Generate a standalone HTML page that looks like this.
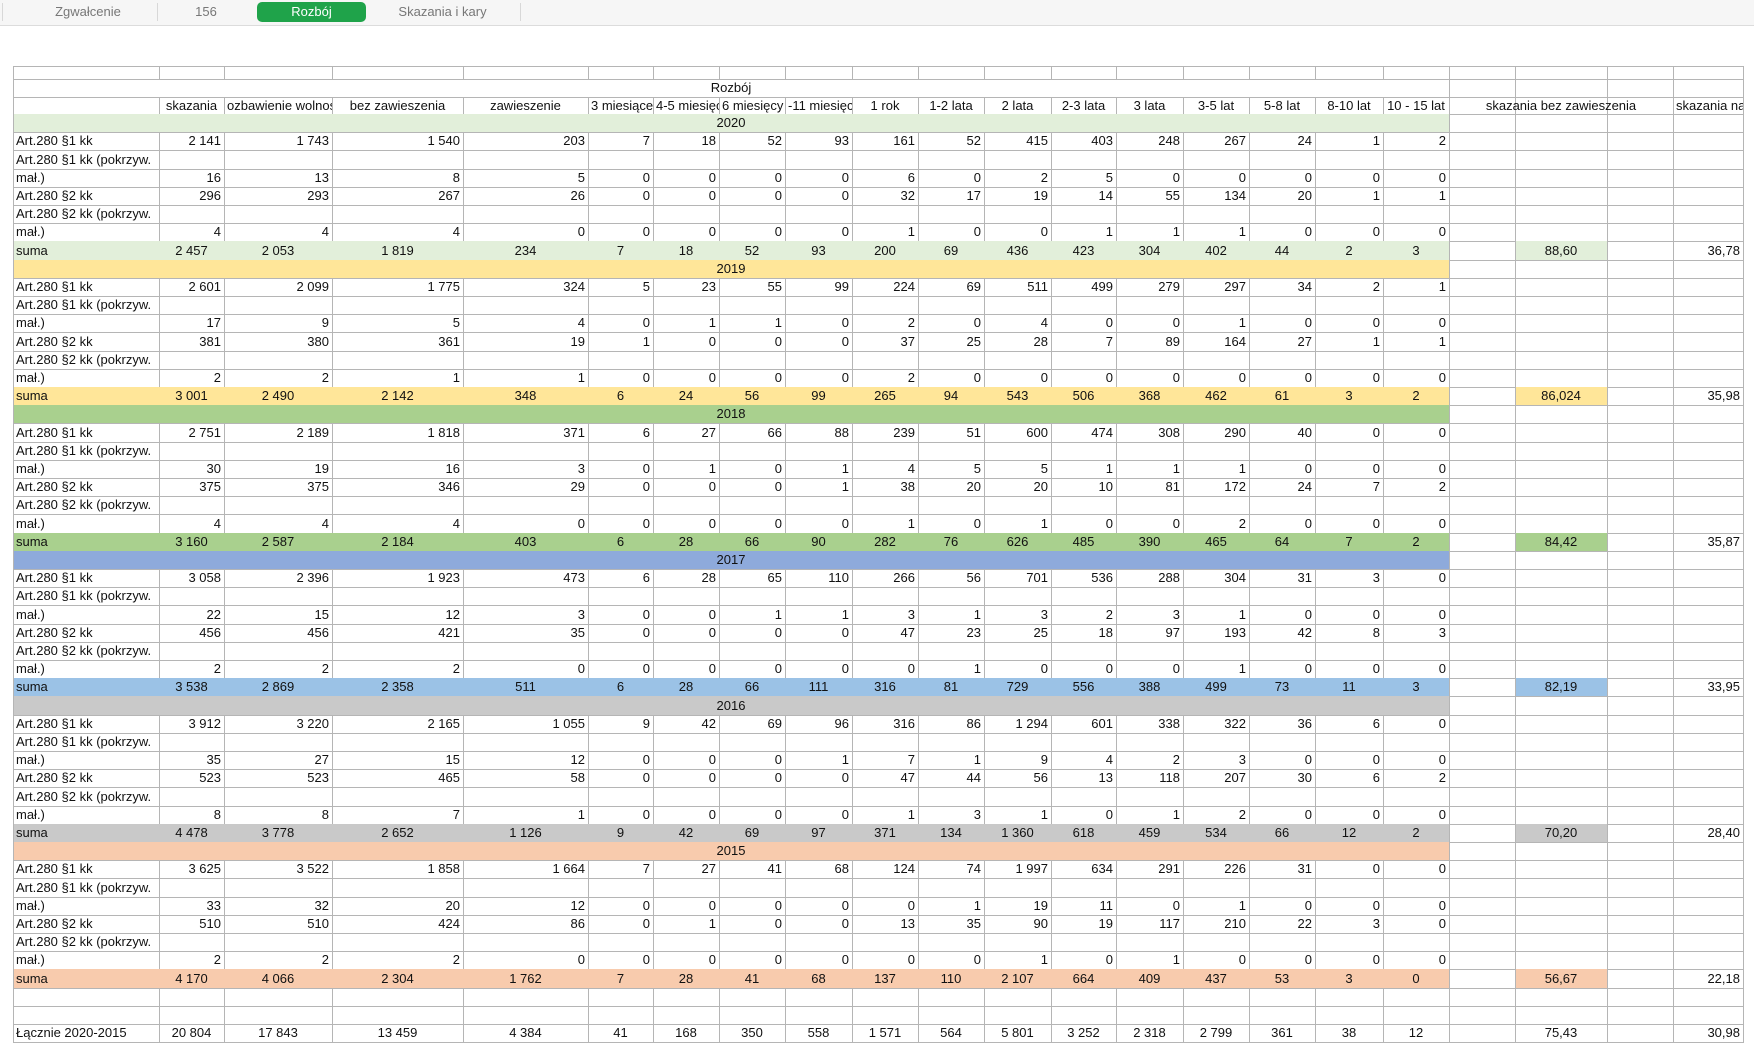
<!DOCTYPE html>
<html><head><meta charset="utf-8">
<style>
body{margin:0;width:1754px;height:1053px;background:#fff;position:relative;overflow:hidden;font-family:"Liberation Sans",Arial,sans-serif;}
#tabs{position:absolute;left:0;top:0;width:1754px;height:25px;background:#f6f6f6;border-bottom:1px solid #dcdcdc;}
.tab{position:absolute;top:4px;font-size:13px;color:#777;text-align:center;}
.sep{position:absolute;top:3px;width:1px;height:18px;background:#d8d8d8;}
#pill{position:absolute;left:257px;top:2px;width:109px;height:20px;background:#1fa34a;border-radius:5px;color:#fff;font-size:13px;text-align:center;line-height:20px;}
.c{position:absolute;box-sizing:border-box;font-size:13px;line-height:18px;white-space:nowrap;overflow:hidden;color:#111;}
.hl{position:absolute;height:1px;background:#b5b5b5;}
.vl{position:absolute;width:1px;background:#b5b5b5;}
.sm{font-family:"Liberation Sans Narrow","Liberation Sans",sans-serif;}
</style></head><body>
<div id="tabs">
<div class="sep" style="left:2px"></div>
<div class="tab" style="left:40px;width:96px">Zgwałcenie</div>
<div class="sep" style="left:157px"></div>
<div class="tab" style="left:180px;width:52px">156</div>
<div id="pill">Rozbój</div>
<div class="tab" style="left:380px;width:125px">Skazania i kary</div>
<div class="sep" style="left:520px"></div>
</div>
<div id="g"></div>
<script>
var X=[13,159,224,332,463,588,653,719,785,852,918,984,1051,1116,1183,1249,1315,1383,1449,1515,1607,1673,1743];
var g=document.getElementById('g');var h='';
var rowsY=[66,79,97,114];
for(var i=1;i<=51;i++)rowsY.push(Math.round(114+i*18.2));
function cell(x1,x2,y1,y2,txt,al,bg,cls){h+='<div class="c '+(cls||'')+'" style="left:'+x1+'px;width:'+(x2-x1)+'px;top:'+y1+'px;height:'+(y2-y1)+'px;line-height:'+(y2-y1)+'px;text-align:'+al+';padding:0 3px;'+(bg?'background:'+bg+';':'')+'">'+txt+'</div>';}
function hl(x1,x2,y){h+='<div class="hl" style="left:'+x1+'px;width:'+(x2-x1+1)+'px;top:'+y+'px"></div>';}
function vl(x,y1,y2){h+='<div class="vl" style="left:'+x+'px;top:'+y1+'px;height:'+(y2-y1)+'px"></div>';}
var years=[
['2020','#e2efda','#e2efda',[
['2 141','1 743','1 540','203',7,18,52,93,161,52,415,403,248,267,24,1,2],
['16',13,8,5,0,0,0,0,6,0,2,5,0,0,0,0,0],
['296',293,267,26,0,0,0,0,32,17,19,14,55,134,20,1,1],
['4',4,4,0,0,0,0,0,1,0,0,1,1,1,0,0,0],
['2 457','2 053','1 819',234,7,18,52,93,200,69,436,423,304,402,44,2,3],'88,60','36,78']],
['2019','#ffe699','#ffe699',[
['2 601','2 099','1 775',324,5,23,55,99,224,69,511,499,279,297,34,2,1],
[17,9,5,4,0,1,1,0,2,0,4,0,0,1,0,0,0],
[381,380,361,19,1,0,0,0,37,25,28,7,89,164,27,1,1],
[2,2,1,1,0,0,0,0,2,0,0,0,0,0,0,0,0],
['3 001','2 490','2 142',348,6,24,56,99,265,94,543,506,368,462,61,3,2],'86,024','35,98']],
['2018','#a9d08e','#a9d08e',[
['2 751','2 189','1 818',371,6,27,66,88,239,51,600,474,308,290,40,0,0],
[30,19,16,3,0,1,0,1,4,5,5,1,1,1,0,0,0],
[375,375,346,29,0,0,0,1,38,20,20,10,81,172,24,7,2],
[4,4,4,0,0,0,0,0,1,0,1,0,0,2,0,0,0],
['3 160','2 587','2 184',403,6,28,66,90,282,76,626,485,390,465,64,7,2],'84,42','35,87']],
['2017','#8eaadb','#9bc2e6',[
['3 058','2 396','1 923',473,6,28,65,110,266,56,701,536,288,304,31,3,0],
[22,15,12,3,0,0,1,1,3,1,3,2,3,1,0,0,0],
[456,456,421,35,0,0,0,0,47,23,25,18,97,193,42,8,3],
[2,2,2,0,0,0,0,0,0,1,0,0,0,1,0,0,0],
['3 538','2 869','2 358',511,6,28,66,111,316,81,729,556,388,499,73,11,3],'82,19','33,95']],
['2016','#c9c9c9','#c9c9c9',[
['3 912','3 220','2 165','1 055',9,42,69,96,316,86,'1 294',601,338,322,36,6,0],
[35,27,15,12,0,0,0,1,7,1,9,4,2,3,0,0,0],
[523,523,465,58,0,0,0,0,47,44,56,13,118,207,30,6,2],
[8,8,7,1,0,0,0,0,1,3,1,0,1,2,0,0,0],
['4 478','3 778','2 652','1 126',9,42,69,97,371,134,'1 360',618,459,534,66,12,2],'70,20','28,40']],
['2015','#f8cbad','#f8cbad',[
['3 625','3 522','1 858','1 664',7,27,41,68,124,74,'1 997',634,291,226,31,0,0],
[33,32,20,12,0,0,0,0,0,1,19,11,0,1,0,0,0],
[510,510,424,86,0,1,0,0,13,35,90,19,117,210,22,3,0],
[2,2,2,0,0,0,0,0,0,0,1,0,1,0,0,0,0],
['4 170','4 066','2 304','1 762',7,28,41,68,137,110,'2 107',664,409,437,53,3,0],'56,67','22,18']]
];
var hdr=['','skazania','ozbawienie wolnoś','bez zawieszenia','zawieszenie','3 miesiące','4-5 miesięcy','6 miesięcy','-11 miesięc','1 rok','1-2 lata','2 lata','2-3 lata','3 lata','3-5 lat','5-8 lat','8-10 lat','10 - 15 lat'];
hl(13,1743,66);hl(13,1743,79);hl(13,1743,97);hl(13,1743,114);
for(var k=0;k<X.length;k++){vl(X[k],66,79);vl(X[k],97,114);}
vl(13,79,97);vl(1449,79,97);vl(1515,79,97);vl(1607,79,97);vl(1673,79,97);vl(1743,79,97);
cell(13,1449,79,97,'Rozbój','center','','sm');
for(var k=1;k<18;k++)cell(X[k],X[k+1],97,114,hdr[k],'center','','sm');
cell(1449,1673,97,114,'skazania bez zawieszenia','center','','sm');
cell(1673,1743,97,114,'skazania na','center','','sm');
var labels=['Art.280 §1 kk','Art.280 §1 kk (pokrzyw.','mał.)','Art.280 §2 kk','Art.280 §2 kk (pokrzyw.','mał.)','suma'];
var r=3;
function gridRow(y1,y2,from){for(var k=from;k<X.length;k++)vl(X[k],y1,y2);hl(13,1743,y2);}
years.forEach(function(Y){
 var y1=rowsY[r],y2=rowsY[r+1];
 cell(13,1449,y1,y2,Y[0],'center',Y[1],'sm');
 for(var k=18;k<X.length;k++)vl(X[k],y1,y2);vl(13,y1,y2);hl(13,1743,y2);
 r++;
 var d=Y[3],di=0;
 for(var j=0;j<7;j++){
  y1=rowsY[r];y2=rowsY[r+1];
  if(j==6){
   cell(13,1449,y1,y2,'','left',Y[2]);
   cell(13,159,y1,y2,'suma','left','','sm');
   var v=d[4];for(var k=0;k<17;k++)cell(X[k+1],X[k+2],y1,y2,v[k],'center','','sm');
   cell(1515,1607,y1,y2,d[5],'center',Y[2],'sm');
   cell(1673,1743,y1,y2,d[6],'right','','sm');
   for(var k=18;k<X.length;k++)vl(X[k],y1,y2);vl(13,y1,y2);hl(13,1743,y2);
  } else {
   gridRow(y1,y2,0);
   if(j==1||j==4){cell(13,260,y1,y2,labels[j],'left','');}
   else{cell(13,159,y1,y2,labels[j],'left','');var v=d[di++];for(var k=0;k<17;k++)cell(X[k+1],X[k+2],y1,y2,v[k],'right','');}
  }
  r++;
 }
});
for(var j=0;j<3;j++){var y1=rowsY[r],y2=rowsY[r+1];gridRow(y1,y2,0);
 if(j==2){cell(13,159,y1,y2,'Łącznie 2020-2015','left','','sm');var v=['20 804','17 843','13 459','4 384',41,168,350,558,'1 571',564,'5 801','3 252','2 318','2 799',361,38,12];for(var k=0;k<17;k++)cell(X[k+1],X[k+2],y1,y2,v[k],'center','','sm');cell(1515,1607,y1,y2,'75,43','center','','sm');cell(1673,1743,y1,y2,'30,98','right','','sm');}
 r++;}
g.innerHTML=h;
</script>
</body></html>
